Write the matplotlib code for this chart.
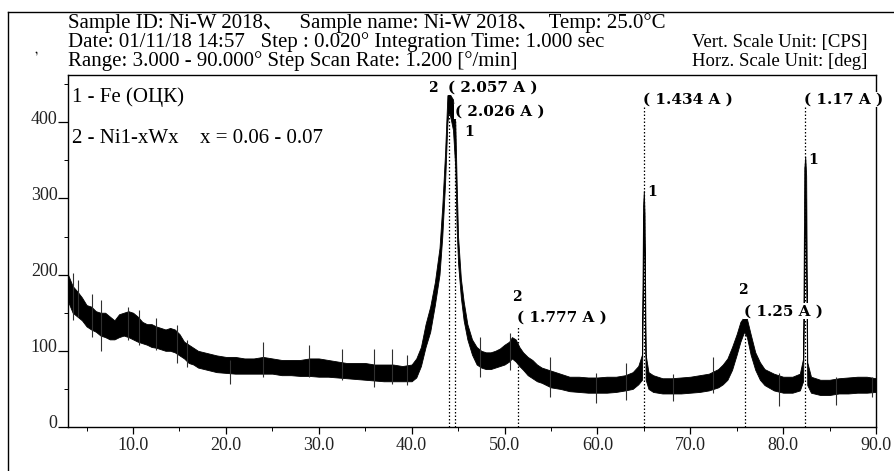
import matplotlib
matplotlib.use("Agg")
import matplotlib.pyplot as plt
from matplotlib.lines import Line2D
import matplotlib.transforms as mtransforms

# ---- data ----
two_theta = [3.0, 3.5, 4.0, 4.5, 5.0, 5.5, 6.0, 6.5, 7.0, 7.5, 8.0, 8.5, 9.0, 9.5, 10.0,
             10.5, 11.0, 11.5, 12.0, 12.5, 13.0, 13.5, 14.0, 14.5, 15.0, 15.5, 16.0, 16.5,
             17.0, 18.0, 19.0, 20.0, 21.0, 22.0, 23.0, 24.0, 25.0, 26.0, 27.0, 28.0, 29.0,
             30.0, 31.0, 32.0, 33.0, 34.0, 35.0, 36.0, 37.0, 38.0, 39.0, 40.0, 40.5, 41.0,
             41.5, 42.0, 42.5, 43.0, 43.3, 43.6, 43.85, 44.0, 44.2, 44.45, 44.7, 44.85, 45.0,
             45.3, 45.6, 46.0, 46.5, 47.0, 47.5, 48.0, 48.5, 49.0, 49.5, 50.0, 50.5, 50.8,
             51.2, 51.6, 52.0, 52.5, 53.0, 53.5, 54.0, 55.0, 56.0, 57.0, 58.0, 59.0, 60.0,
             61.0, 62.0, 63.0, 63.8, 64.4, 64.8, 64.92, 65.0, 65.08, 65.2, 65.5, 66.0, 67.0,
             68.0, 69.0, 70.0, 71.0, 72.0, 73.0, 73.5, 74.0, 74.5, 75.0, 75.4, 75.8, 76.1,
             76.5, 77.0, 77.5, 78.0, 79.0, 80.0, 81.0, 81.8, 82.15, 82.28, 82.38, 82.48,
             82.6, 83.0, 84.0, 85.0, 86.0, 87.0, 88.0, 89.0, 90.0]
intensity_low = [165, 150, 145, 140, 132, 128, 125, 120, 118, 115, 115, 118, 120, 118, 115,
                 112, 110, 108, 105, 104, 102, 100, 100, 98, 94, 90, 84, 82,
                 78, 75, 72, 71, 70, 70, 70, 70, 70, 68, 68, 67, 67,
                 66, 66, 65, 64, 63, 62, 61, 60, 60, 60, 60, 65, 80,
                 105, 125, 160, 200, 250, 320, 400, 415, 405, 390, 340, 260, 215,
                 170, 140, 115, 95, 82, 78, 76, 76, 78, 80, 82, 86, 90,
                 86, 80, 75, 68, 64, 60, 58, 52, 50, 47, 46, 45, 45,
                 45, 46, 48, 50, 56, 62, 200, 280, 200, 62, 50, 46, 44,
                 44, 44, 45, 46, 48, 52, 56, 62, 75, 95, 112, 125, 118,
                 95, 75, 62, 55, 48, 45, 45, 48, 60, 200, 300, 200,
                 55, 45, 42, 42, 44, 44, 45, 45, 46]
intensity_high = [200, 185, 178, 170, 160, 158, 152, 150, 150, 145, 140, 148, 150, 152, 150,
                  145, 138, 135, 135, 132, 130, 128, 130, 128, 122, 112, 108, 104,
                  100, 97, 94, 92, 92, 90, 90, 92, 90, 88, 88, 88, 90,
                  90, 88, 86, 84, 84, 84, 82, 82, 82, 80, 82, 90, 105,
                  135, 158, 190, 235, 290, 360, 435, 440, 435, 430, 400, 320, 250,
                  195, 165, 135, 115, 105, 100, 98, 98, 100, 103, 108, 112, 118,
                  115, 105, 98, 92, 88, 82, 78, 74, 70, 66, 66, 65, 65,
                  66, 66, 68, 72, 80, 95, 290, 310, 280, 95, 72, 68, 64,
                  64, 65, 66, 68, 70, 76, 82, 90, 105, 122, 138, 145, 142,
                  122, 98, 85, 76, 70, 66, 66, 70, 90, 340, 355, 330,
                  85, 66, 62, 62, 64, 65, 66, 66, 64]

# individual noise spikes
spike_x = [3.5, 4.1, 5.55, 6.6, 9.5, 10.6, 12.5, 14.7, 15.8, 20.4, 24.0, 28.9, 32.5,
           35.9, 37.9, 39.5, 47.4, 50.6, 54.9, 59.9, 63.1, 68.1, 72.5, 79.6, 85.7, 89.6]
spike_low = [140, 145, 118, 100, 114, 108, 101, 84, 79, 57, 66, 66, 62,
             53, 57, 55, 66, 75, 40, 31, 35, 34, 44, 27, 29, 40]
spike_high = [202, 193, 175, 167, 158, 153, 143, 134, 114, 88, 112, 108, 103,
              103, 103, 94, 118, 123, 92, 71, 84, 70, 92, 71, 66, 66]

# reflection lines: 2theta, top of dotted line, d-spacing label, phase
peak_pos = [43.98, 44.72, 51.40, 64.98, 75.85, 82.38]
peak_line_top = [446, 414, 143, 430, 152, 430]
peak_d_labels = ["( 2.057 A )", "( 2.026 A )", "( 1.777 A )", "( 1.434 A )", "( 1.25 A )", "( 1.17 A )"]
peak_phase = ["2", "1", "2", "1", "2", "1"]
phase_label_xy = [(42.3, 445), (46.2, 387), (51.3, 170), (65.9, 308), (75.7, 180), (83.2, 350)]

x_ticks = [10, 20, 30, 40, 50, 60, 70, 80, 90]
x_tick_labels = ["10.0", "20.0", "30.0", "40.0", "50.0", "60.0", "70.0", "80.0", "90.0"]
y_ticks = [0, 100, 200, 300, 400]
y_tick_labels = ["0", "100", "200", "300", "400"]

header_lines = [
    "Sample ID: Ni-W 2018\u3001   Sample name: Ni-W 2018\u3001  Temp: 25.0°C",
    "Date: 01/11/18 14:57   Step : 0.020° Integration Time: 1.000 sec",
    "Range: 3.000 - 90.000° Step Scan Rate: 1.200 [°/min]",
]
header_right = ["Vert. Scale Unit: [CPS]", "Horz. Scale Unit: [deg]"]
legend_lines = ["1 - Fe (ОЦК)", "2 - Ni1-xWx", "x = 0.06 - 0.07"]

# ---- figure ----
SERIF = ["Liberation Serif", "Noto Sans CJK SC", "DejaVu Serif"]
WIDE = ["DejaVu Serif"]
plt.rcParams["font.family"] = SERIF

W, H = 894, 471
fig = plt.figure(figsize=(W / 100, H / 100), dpi=100)
ax = fig.add_axes([68 / W, 1 - 427 / H, (876 - 68) / W, (427 - 75) / H])

ax.fill_between(two_theta, intensity_low, intensity_high, color="black", linewidth=0.6,
                edgecolor="black")
ax.vlines(spike_x, spike_low, spike_high, colors="#303030", linewidth=0.8)

for x, top in zip(peak_pos, peak_line_top):
    ax.vlines(x, 0, top, colors="black", linestyles=(0, (1.2, 1.6)), linewidth=0.9)

bbox = dict(facecolor="white", edgecolor="none", pad=0.5)
for x, top, lab in zip(peak_pos, peak_line_top, peak_d_labels):
    ax.text(x - 0.1, top, lab, ha="left", va="center", fontsize=11, fontweight="bold",
            family=WIDE, bbox=bbox)
for (px, py), ph in zip(phase_label_xy, peak_phase):
    ax.text(px, py, ph, ha="center", va="center", fontsize=10, fontweight="bold",
            family=WIDE)

ax.text(3.45, 433, legend_lines[0], ha="left", va="center", fontsize=15)
ax.text(3.45, 379, legend_lines[1], ha="left", va="center", fontsize=15)
ax.text(17.2, 379, legend_lines[2], ha="left", va="center", fontsize=15)

ax.set_xlim(3, 90)
ax.set_ylim(0, 462)
ax.set_xticks(x_ticks)
ax.set_xticklabels(x_tick_labels)
ax.set_xticks([5, 15, 25, 35, 45, 55, 65, 75, 85], minor=True)
ax.set_yticks(y_ticks)
ax.set_yticklabels(y_tick_labels)
ax.set_yticks([50, 150, 250, 350, 450], minor=True)
ax.tick_params(axis="both", which="major", direction="out", width=0.9,
               labelsize=13, colors="black", labelcolor="#222222")
ax.tick_params(axis="x", which="major", length=5, pad=2.5)
ax.tick_params(axis="y", which="major", length=7, pad=0.5)
ax.tick_params(axis="both", which="minor", direction="out", length=3, width=0.7)
for sp in ax.spines.values():
    sp.set_linewidth(1.0)

off = mtransforms.ScaledTranslation(0, 5 / 100, fig.dpi_scale_trans)
for lab in ax.get_yticklabels():
    lab.set_transform(lab.get_transform() + off)

# header
for i, t in enumerate(header_lines):
    fig.text(68 / W, 1 - (23 + 19 * i) / H, t, ha="left", va="center", fontsize=15)
for i, t in enumerate(header_right):
    fig.text(867 / W, 1 - (42 + 19 * i) / H, t, ha="right", va="center", fontsize=13.5)

# outer frame (cropped)
fig.add_artist(Line2D([8 / W, 8 / W], [0, 1 - 12 / H], color="black", linewidth=1.0))
fig.add_artist(Line2D([8 / W, 1], [1 - 12 / H, 1 - 12 / H], color="black", linewidth=1.0))
fig.text(35 / W, 1 - 49 / H, ",", fontsize=10, ha="center", va="center", rotation=20)

fig.savefig("out.png", dpi=100)
